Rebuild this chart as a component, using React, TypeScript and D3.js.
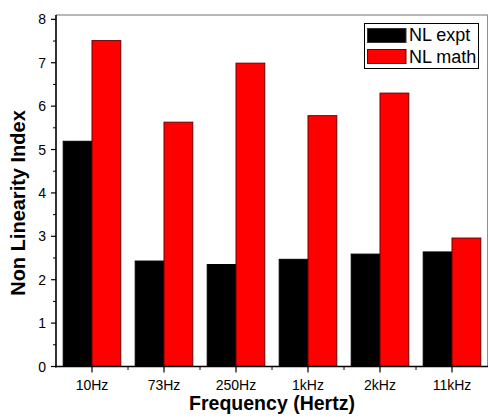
import React from "react";
import * as d3 from "d3";

const categories = ["10Hz", "73Hz", "250Hz", "1kHz", "2kHz", "11kHz"];
const nlExpt = [5.19, 2.43, 2.35, 2.47, 2.59, 2.64];
const nlMath = [7.51, 5.63, 6.99, 5.78, 6.3, 2.96];
const seriesNames = ["NL expt", "NL math"];
const yTicks = [0, 1, 2, 3, 4, 5, 6, 7, 8];

const W = 488;
const H = 418;
const left = 56;
const right = 488;
const top = 15;
const bottom = 366.5;

const font = "'Liberation Sans', Arial, sans-serif";

export default function App() {
  const x = d3.scaleBand().domain(categories).range([left, right]).paddingInner(0).paddingOuter(0);
  const x1 = d3.scaleBand().domain(seriesNames).range([0, x.bandwidth()]).paddingInner(0).paddingOuter(0.25);
  const y = d3.scaleLinear().domain([0, 8.1]).range([bottom, top]);

  const fills = ["#000000", "#ff0000"];
  const strokes = ["#000000", "#6b0000"];
  const series = [nlExpt, nlMath];

  const minorY = d3.range(0.5, 8, 1);
  const bounds = d3.range(categories.length + 1).map((i) => left + i * x.step());

  return (
    <svg width={W} height={H} style={{ position: "absolute", left: 0, top: 0 }}>
      <rect x={0} y={0} width={W} height={H} fill="#fff" />
      {/* bars */}
      {series.map((vals, si) =>
        vals.map((v, i) => (
          <rect
            key={si + "-" + i}
            x={(x(categories[i]) as number) + (x1(seriesNames[si]) as number)}
            y={y(v)}
            width={x1.bandwidth()}
            height={y(0) - y(v)}
            fill={fills[si]}
            stroke={strokes[si]}
            strokeWidth={1}
          />
        ))
      )}
      {/* frame top/right */}
      <line x1={left} x2={right} y1={top} y2={top} stroke="#707070" strokeWidth={1.2} />
      <line x1={right - 0.5} x2={right - 0.5} y1={top} y2={bottom} stroke="#909090" strokeWidth={1} />
      {/* y axis */}
      <line x1={left} x2={left} y1={top} y2={bottom + 1} stroke="#000" strokeWidth={1.6} />
      {yTicks.map((t) => (
        <g key={"y" + t}>
          <line x1={left - 5} x2={left} y1={y(t)} y2={y(t)} stroke="#000" strokeWidth={1.2} />
          <text x={46} y={y(t) + 5} textAnchor="end" fontFamily={font} fontSize={14} fill="#000">
            {t}
          </text>
        </g>
      ))}
      {minorY.map((t) => (
        <line key={"ym" + t} x1={left - 3} x2={left} y1={y(t)} y2={y(t)} stroke="#000" strokeWidth={1} />
      ))}
      {/* x axis */}
      <line x1={left - 1} x2={right} y1={bottom} y2={bottom} stroke="#000" strokeWidth={1.6} />
      {categories.map((c) => {
        const cx = (x(c) as number) + x.bandwidth() / 2;
        return (
          <g key={c}>
            <line x1={cx} x2={cx} y1={bottom} y2={bottom + 6} stroke="#000" strokeWidth={1.2} />
            <text x={cx} y={390} textAnchor="middle" fontFamily={font} fontSize={14} fill="#000">
              {c}
            </text>
          </g>
        );
      })}
      {bounds.slice(1, -1).map((bx) => (
        <line key={"xm" + bx} x1={bx} x2={bx} y1={bottom} y2={bottom + 3.5} stroke="#000" strokeWidth={1} />
      ))}
      {/* axis titles */}
      <text
        x={(left + right) / 2}
        y={410}
        textAnchor="middle"
        fontFamily={font}
        fontWeight="bold"
        fontSize={19.5}
        fill="#000"
      >
        Frequency (Hertz)
      </text>
      <text
        transform={`translate(25,203) rotate(-90)`}
        textAnchor="middle"
        fontFamily={font}
        fontWeight="bold"
        fontSize={20}
        fill="#000"
      >
        Non Linearity Index
      </text>
      {/* legend */}
      <rect x={364.5} y={23.5} width={114} height={45} fill="#fff" stroke="#000" strokeWidth={1} />
      {seriesNames.map((s, i) => (
        <g key={s}>
          <rect x={367.5} y={28.5 + i * 21} width={38.5} height={14} fill={fills[i]} stroke={i === 0 ? "#333" : "#6b0000"} strokeWidth={1} />
          <text x={409} y={40.5 + i * 22.5} fontFamily={font} fontSize={18} fill="#000">
            {s}
          </text>
        </g>
      ))}
    </svg>
  );
}
